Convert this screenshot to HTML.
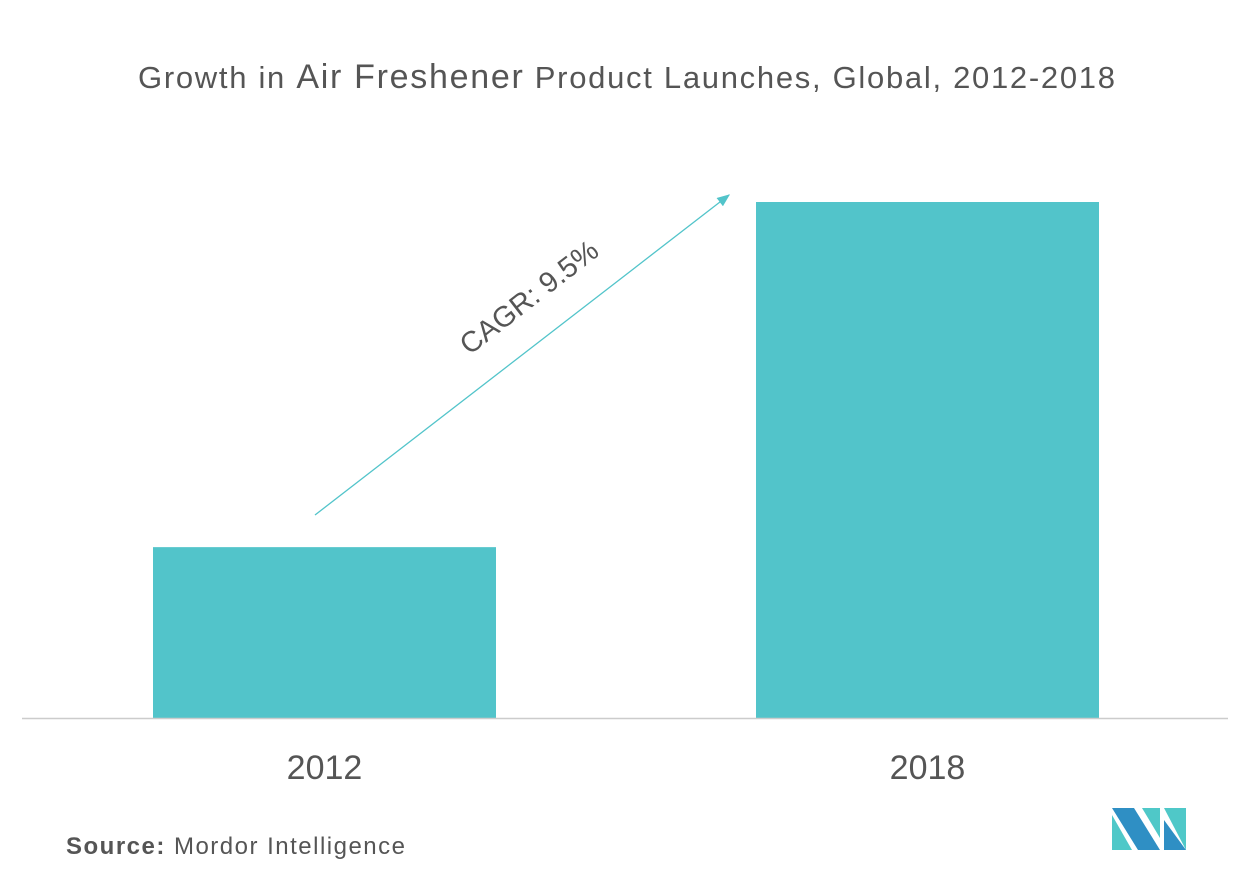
<!DOCTYPE html>
<html><head><meta charset="utf-8"><style>
body{margin:0;background:#fff;width:1252px;height:880px;overflow:hidden;font-family:"Liberation Sans",sans-serif}
</style></head><body>
<svg width="1252" height="880">
<text x="138" y="88" textLength="977" lengthAdjust="spacing" font-size="31" fill="#555">Growth in <tspan font-size="34">Air Freshener</tspan> Product Launches, Global, 2012-2018</text>
<g id="bars"></g>
<line x1="22" y1="718.5" x2="1228" y2="718.5" stroke="#ccc" stroke-width="1.5"/>
<g id="labels"></g>
<defs><marker id="ah" markerWidth="10" markerHeight="8" refX="9" refY="4" orient="auto"><path d="M0,0 L10,4 L0,8 z" fill="#52c4ca"/></marker></defs>
<line x1="315" y1="515" x2="729" y2="195" stroke="#52c4ca" stroke-width="1.3" marker-end="url(#ah)"/>
<text x="0" y="0" transform="translate(535,305) rotate(-37.7)" text-anchor="middle" font-size="29" fill="#555">CAGR: 9.5%</text>
<text x="66" y="854" textLength="339" lengthAdjust="spacing" font-size="24" fill="#555"><tspan font-weight="bold">Source:</tspan> Mordor Intelligence</text>
<g>
<polygon points="1112,808 1134,808 1160,850 1138,850" fill="#2f8fc4"/>
<polygon points="1112,815 1112,850 1132,850" fill="#4fc8c8"/>
<polygon points="1142,808 1160,808 1160,838" fill="#4fc8c8"/>
<polygon points="1164,808 1186,808 1186,850" fill="#4fc8c8"/>
<polygon points="1164,820 1186,850 1164,850" fill="#2f8fc4"/>
</g>
</svg>
<script>
const categories=["2012","2018"];
const values=[100,302];
const yMax=302;
const svgNS="http://www.w3.org/2000/svg";
const base=718, plotH=516;
function y(v){return base-v/yMax*plotH;}
const x0=153, bw=343, step=603;
function x(i){return x0+i*step;}
const bars=document.getElementById('bars'), labels=document.getElementById('labels');
categories.forEach((c,i)=>{
 const r=document.createElementNS(svgNS,'rect');
 r.setAttribute('x',x(i));r.setAttribute('y',y(values[i]));
 r.setAttribute('width',bw);r.setAttribute('height',base-y(values[i]));
 r.setAttribute('fill','#52c4ca');
 
 
 bars.appendChild(r);
 const t=document.createElementNS(svgNS,'text');
 t.setAttribute('x',x(i)+bw/2);t.setAttribute('y',779);
 t.setAttribute('text-anchor','middle');t.setAttribute('font-size','34');t.setAttribute('fill','#555');
 t.textContent=c;
 
 
 labels.appendChild(t);
});
</script>
</body></html>
